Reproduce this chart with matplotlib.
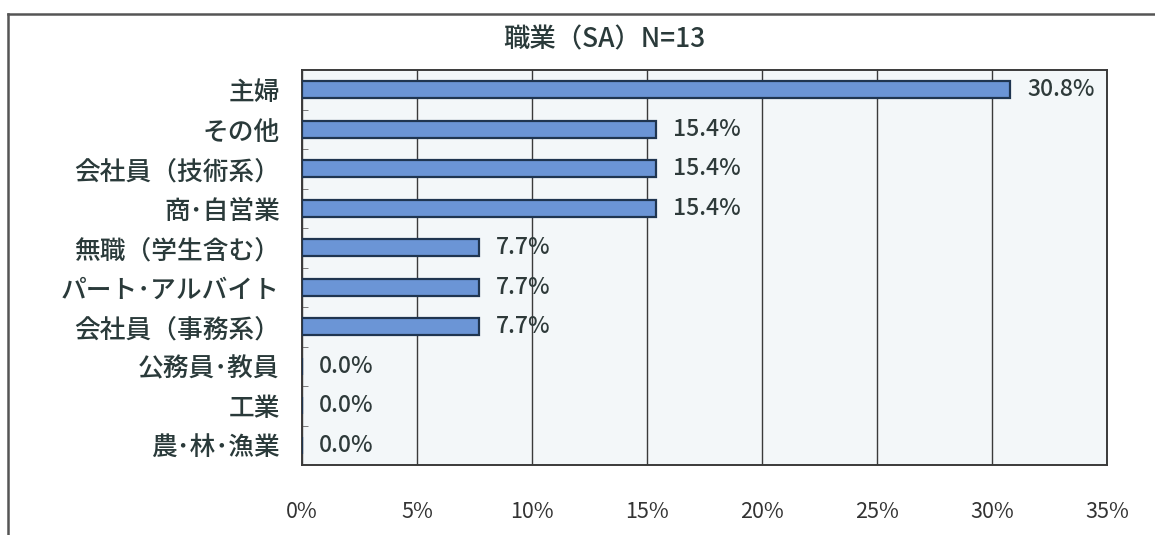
import matplotlib
matplotlib.use("Agg")
import matplotlib.pyplot as plt
from matplotlib.lines import Line2D
import numpy as np

plt.rcParams['font.family'] = ['Noto Sans CJK JP', 'DejaVu Sans']

title = "職業（SA）N=13"
categories = ["主婦", "その他", "会社員（技術系）", "商･自営業", "無職（学生含む）",
              "パート･アルバイト", "会社員（事務系）", "公務員･教員", "工業", "農･林･漁業"]
values = [30.8, 15.4, 15.4, 15.4, 7.7, 7.7, 7.7, 0.0, 0.0, 0.0]
xticks = [0, 5, 10, 15, 20, 25, 30, 35]
xtick_labels = ["0%", "5%", "10%", "15%", "20%", "25%", "30%", "35%"]

W, H = 1155, 535
fig = plt.figure(figsize=(W / 100, H / 100), dpi=100)
fig.patch.set_facecolor("white")

ax = fig.add_axes([302 / W, 1 - 465 / H, (1107 - 302) / W, (465 - 70) / H])
ax.set_facecolor("#f3f7f9")

y = np.arange(len(categories))
ax.barh(y, values, height=0.43, color="#6b95d6", edgecolor="#1f3550", linewidth=1.6, zorder=3)

ax.set_xlim(0, 35)
ax.set_ylim(len(categories) - 0.5, -0.5)
ax.set_xticks(xticks)
ax.set_xticklabels(xtick_labels, fontsize=15.5, color="#333333")
ax.tick_params(axis="x", length=0, pad=26)
ax.set_yticks(y)
ax.set_yticklabels(categories, fontsize=18.5, color="#2a3a3a", fontweight="medium")
ax.tick_params(axis="y", length=0, pad=16)
ax.set_yticks(np.arange(len(categories) - 1) + 0.5, minor=True)
ax.tick_params(axis="y", which="minor", direction="in", length=4, color="#666666")

ax.grid(axis="x", color="#3a3a3a", linewidth=1.0, zorder=1)
for s in ax.spines.values():
    s.set_color("#3a3a3a")
    s.set_linewidth(1.4)

for yi, v in zip(y, values):
    ax.annotate(f"{v:.1f}%", xy=(v, yi), xytext=(12, 0), textcoords="offset points",
                va="center", ha="left", fontsize=16.5, color="#2e3a3a", fontweight="medium")

fig.text(604 / W, 1 - 40 / H, title, ha="center", va="center", fontsize=19,
         color="#2a3a3a", fontweight="medium")

# outer frame (left and top edges visible)
fig.add_artist(Line2D([8 / W, 8 / W], [0, 1 - 14 / H], transform=fig.transFigure,
                      color="#555555", linewidth=1.8))
fig.add_artist(Line2D([8 / W, 1], [1 - 14 / H, 1 - 14 / H], transform=fig.transFigure,
                      color="#555555", linewidth=1.8))

fig.savefig("out.png", dpi=100)
